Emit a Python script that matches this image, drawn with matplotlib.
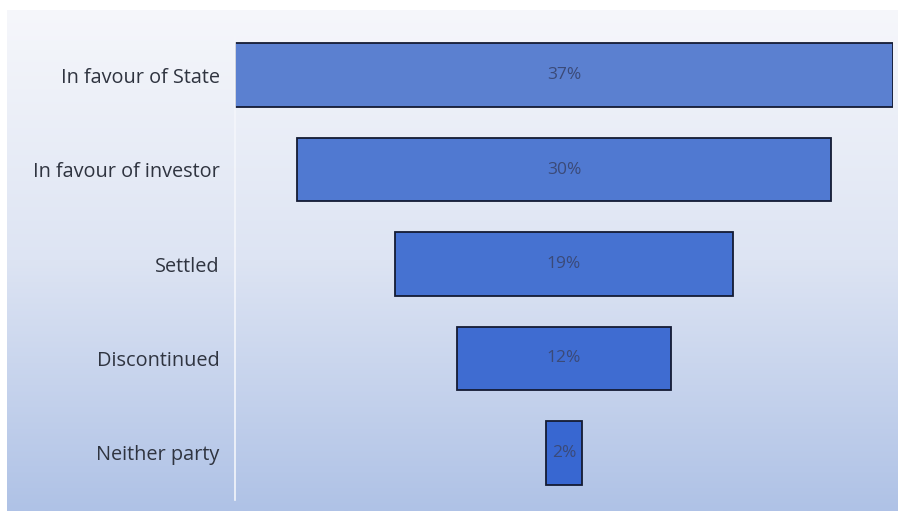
import numpy as np
import matplotlib
matplotlib.use("Agg")
import matplotlib.pyplot as plt
from matplotlib.colors import LinearSegmentedColormap

plt.rcParams['font.family'] = ['Open Sans', 'DejaVu Sans']

# Data
categories = ["In favour of State", "In favour of investor", "Settled", "Discontinued", "Neither party"]
shares = [37, 30, 19, 12, 2]
bar_colors = ["#5b80d0", "#5079d1", "#4672d1", "#3f6cd1", "#3867d1"]

W, H = 898, 511
fig = plt.figure(figsize=(W / 100, H / 100), dpi=100)
fig.patch.set_facecolor("white")

# gradient background panel
bg = fig.add_axes([7 / W, 0, 1 - 7 / W, 1 - 10 / H])
bg_cmap = LinearSegmentedColormap.from_list("bg", ["#f6f7fb", "#dde4f3", "#afc2e6"])
bg.imshow(np.linspace(0, 1, 256).reshape(-1, 1), aspect="auto", cmap=bg_cmap, extent=[0, 1, 0, 1])
bg.axis("off")

# funnel axes
left, right = 235 / W, 893 / W
top, bottom = 1 - 28 / H, 1 - 500 / H
ax = fig.add_axes([left, bottom, right - left, top - bottom])
ax.patch.set_alpha(0)

y = np.arange(len(categories))
widths = np.array(shares, dtype=float)
ax.barh(y, widths, left=-widths / 2, height=0.675, color=bar_colors,
        edgecolor="#141b33", linewidth=1.3)

half = max(shares) / 2
ax.set_xlim(-half, half)
ax.set_ylim(len(categories) - 0.5, -0.5)

for i, v in enumerate(shares):
    ax.text(0, i, f"{v}%", ha="center", va="center", fontsize=12.5, color="#3b4a78")

ax.set_yticks(y)
ax.set_yticklabels(categories, fontsize=14.3, color="#2f3440")
ax.tick_params(axis="y", length=0, pad=11)
ax.set_xticks([])
for s in ["top", "right", "bottom"]:
    ax.spines[s].set_visible(False)
ax.spines["left"].set_color("#f4f6fb")
ax.spines["left"].set_linewidth(1.2)

fig.savefig("out.png", dpi=100)
